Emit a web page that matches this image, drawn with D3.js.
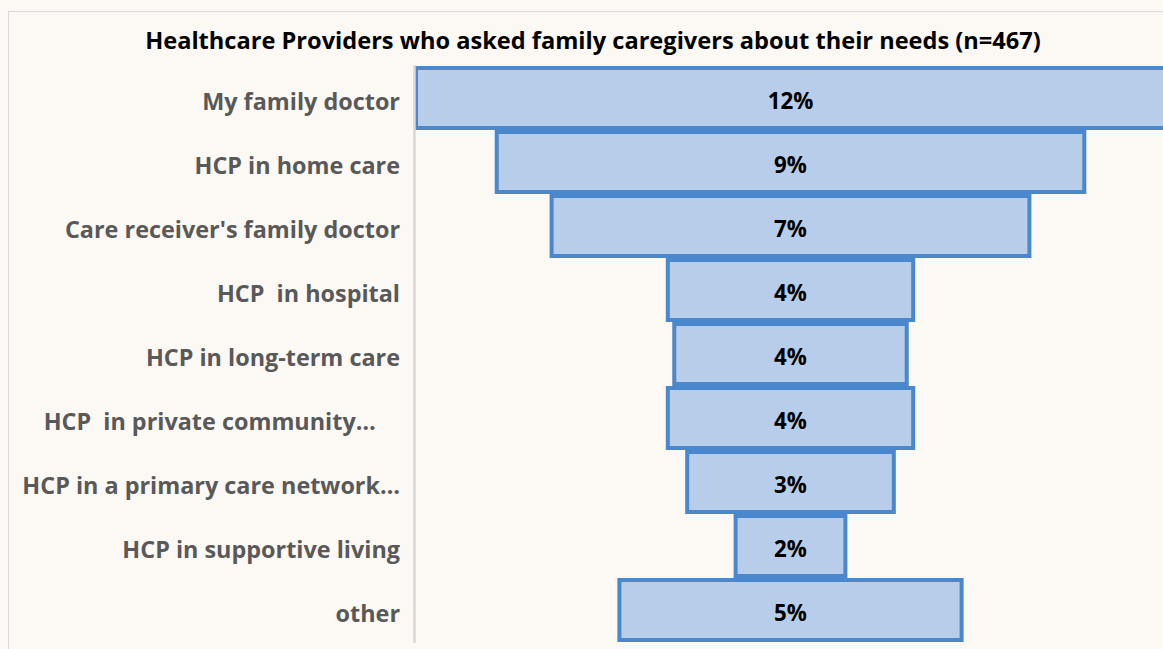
<!DOCTYPE html>
<html>
<head>
<meta charset="utf-8">
<script src="https://cdn.jsdelivr.net/npm/d3@7/dist/d3.min.js"></script>
<style>
  html, body { margin: 0; padding: 0; background: #fcf8f4; }
  svg { display: block; }
  text { white-space: pre; }
</style>
</head>
<body>
<svg id="chart" width="1163" height="649"></svg>
<script>
const title = "Healthcare Providers who asked family caregivers about their needs (n=467)";
const categories = [
  "My family doctor",
  "HCP in home care",
  "Care receiver's family doctor",
  "HCP  in hospital",
  "HCP in long-term care",
  "HCP  in private community…    ",
  "HCP in a primary care network…",
  "HCP in supportive living",
  "other"
];
const values = [11.6, 9.1, 7.4, 3.8, 3.6, 3.8, 3.2, 1.7, 5.3];

const W = 1163, H = 649;
const FONT = "'Open Sans', 'Noto Sans', sans-serif";
const svg = d3.select("#chart");

// chart frame
svg.append("rect").attr("x", 8.5).attr("y", 11.5).attr("width", W + 20).attr("height", H + 20)
  .attr("fill", "#fcf8f4").attr("stroke", "#d9d9d9").attr("stroke-width", 1);

const plotLeft = 416, plotRight = 1165;
const maxV = d3.max(values);
const x = d3.scaleLinear().domain([-maxV / 2, maxV / 2]).range([plotLeft, plotRight]);
const y = d3.scaleBand().domain(categories).range([66, 642])
  .paddingInner(0.0625).paddingOuter(0.03125);

const data = categories.map((c, i) => ({ cat: c, v: values[i] }));

// bars
svg.append("g").selectAll("rect").data(data).join("rect")
  .attr("x", d => x(-d.v / 2))
  .attr("y", d => y(d.cat))
  .attr("width", d => x(d.v / 2) - x(-d.v / 2))
  .attr("height", y.bandwidth())
  .attr("fill", "#b7cde9")
  .attr("stroke", "#4a87cd")
  .attr("stroke-width", 4);

// category axis line
svg.append("line").attr("x1", 414.5).attr("x2", 414.5).attr("y1", 65).attr("y2", 643)
  .attr("stroke", "#d9d9d9").attr("stroke-width", 2.5);

// category labels via axis
const yAxis = d3.axisLeft(y).tickSize(0).tickPadding(0);
const ga = svg.append("g").attr("transform", "translate(400,0)").call(yAxis);
ga.select(".domain").remove();
ga.selectAll("text")
  .attr("font-family", FONT)
  .attr("font-weight", "bold")
  .attr("font-size", 23.4)
  .attr("fill", "#595959")
  .attr("dy", null)
  .attr("y", 11.5);

// value labels
svg.append("g").selectAll("text").data(data).join("text")
  .attr("x", x(0))
  .attr("y", d => y(d.cat) + y.bandwidth() / 2 + 10.5)
  .attr("text-anchor", "middle")
  .attr("font-family", FONT)
  .attr("font-weight", "bold")
  .attr("font-size", 22.3)
  .attr("fill", "#000")
  .text(d => d3.format(".0%")(d.v / 100));

// title
svg.append("text")
  .attr("x", 593).attr("y", 49)
  .attr("text-anchor", "middle")
  .attr("font-family", FONT)
  .attr("font-weight", "bold")
  .attr("font-size", 23.6)
  .attr("fill", "#000")
  .text(title);
</script>
</body>
</html>
